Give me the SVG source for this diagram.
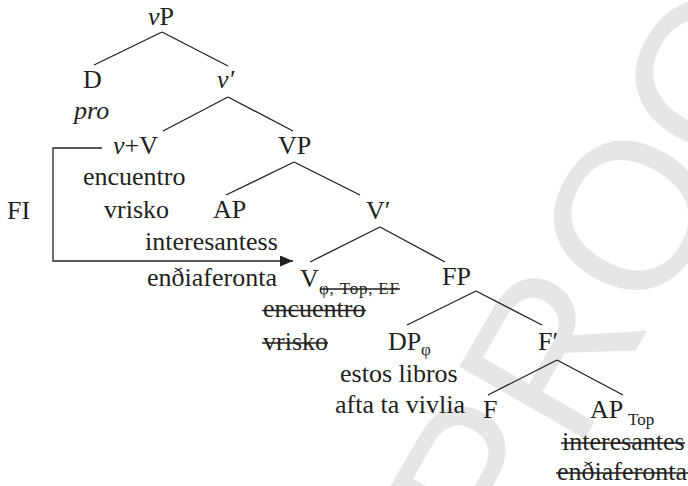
<svg xmlns="http://www.w3.org/2000/svg" width="688" height="486" viewBox="0 0 688 486">
<defs>
<style>
.t{font-family:'Liberation Serif','DejaVu Serif',serif;font-size:26px;fill:#231f20}
.it{font-style:italic}
.sub{font-size:17px}
.edge{stroke:#231f20;stroke-width:1.3;fill:none}
.strike{stroke:#231f20;stroke-width:1.3}
.wm{font-family:'Liberation Sans','DejaVu Sans',sans-serif;font-size:210px;fill:#e6e6e6}
</style>
<marker id="arr" markerUnits="userSpaceOnUse" markerWidth="13" markerHeight="11" refX="13" refY="5.5" orient="auto">
<path d="M0,0 L13,5.5 L0,11 z" fill="#231f20"/>
</marker>
</defs>
<rect width="688" height="486" fill="#ffffff"/>
<text class="wm" transform="translate(506,575) rotate(-60)">PROOF</text>

<g id="connectors">
<line class="edge" x1="162" y1="32" x2="94" y2="65"/>
<line class="edge" x1="162" y1="32" x2="228" y2="66"/>
<line class="edge" x1="228" y1="97" x2="163" y2="131"/>
<line class="edge" x1="228" y1="97" x2="293" y2="131"/>
<line class="edge" x1="294" y1="162" x2="226" y2="195"/>
<line class="edge" x1="294" y1="162" x2="360" y2="195"/>
<line class="edge" x1="380" y1="227" x2="310" y2="262"/>
<line class="edge" x1="380" y1="227" x2="445" y2="262"/>
<line class="edge" x1="476" y1="291" x2="407" y2="325"/>
<line class="edge" x1="476" y1="291" x2="542" y2="325"/>
<line class="edge" x1="557" y1="360" x2="488" y2="395"/>
<line class="edge" x1="557" y1="360" x2="623" y2="395"/>
<path class="edge" d="M102,148 H53 V261 H293" marker-end="url(#arr)"/>
</g>

<g id="vP"><text class="t" x="148" y="25"><tspan class="it">v</tspan>P</text></g>
<g id="D"><text class="t" x="83" y="88">D</text><text x="74" y="119" class="t it">pro</text></g>
<g id="vbar"><text x="217" y="88" class="t it">v′</text></g>
<g id="vV"><text class="t" x="113" y="154"><tspan class="it">v</tspan>+V</text><text class="t" x="83" y="185">encuentro</text><text class="t" x="104" y="218">vrisko</text></g>
<g id="FI"><text class="t" x="7" y="219">FI</text></g>
<g id="VP"><text class="t" x="278" y="154">VP</text></g>
<g id="AP1"><text class="t" x="213" y="218">AP</text><text class="t" x="145" y="250">interesantess</text><text class="t" x="147" y="286">enðiaferonta</text></g>
<g id="Vbar"><text class="t" x="366" y="219">V′</text></g>
<g id="V"><text class="t" x="300" y="287">V</text><text x="319" y="294" class="t sub" textLength="80" lengthAdjust="spacing">φ, Top, EF</text>
<line class="strike" x1="320" y1="289" x2="400" y2="289"/>
<text class="t" x="263" y="317">encuentro</text><line class="strike" x1="262" y1="310.5" x2="366" y2="310.5"/>
<text class="t" x="263" y="350">vrisko</text><line class="strike" x1="262" y1="343" x2="328" y2="343"/></g>
<g id="FP"><text class="t" x="442" y="285">FP</text></g>
<g id="DP"><text class="t" x="388" y="350">DP</text><text x="421" y="355" class="t sub">φ</text><text class="t" x="340" y="382">estos libros</text><text class="t" x="335" y="413">afta ta vivlia</text></g>
<g id="Fbar"><text class="t" x="538" y="350">F′</text></g>
<g id="F"><text class="t" x="483" y="418">F</text></g>
<g id="AP2"><text class="t" x="590" y="418">AP</text><text x="628" y="425" class="t sub">Top</text>
<text class="t" x="562" y="450">interesantes</text><line class="strike" x1="561" y1="443" x2="685" y2="443"/>
<text class="t" x="557" y="480">enðiaferonta</text><line class="strike" x1="556" y1="473" x2="688" y2="473"/></g>
</svg>
